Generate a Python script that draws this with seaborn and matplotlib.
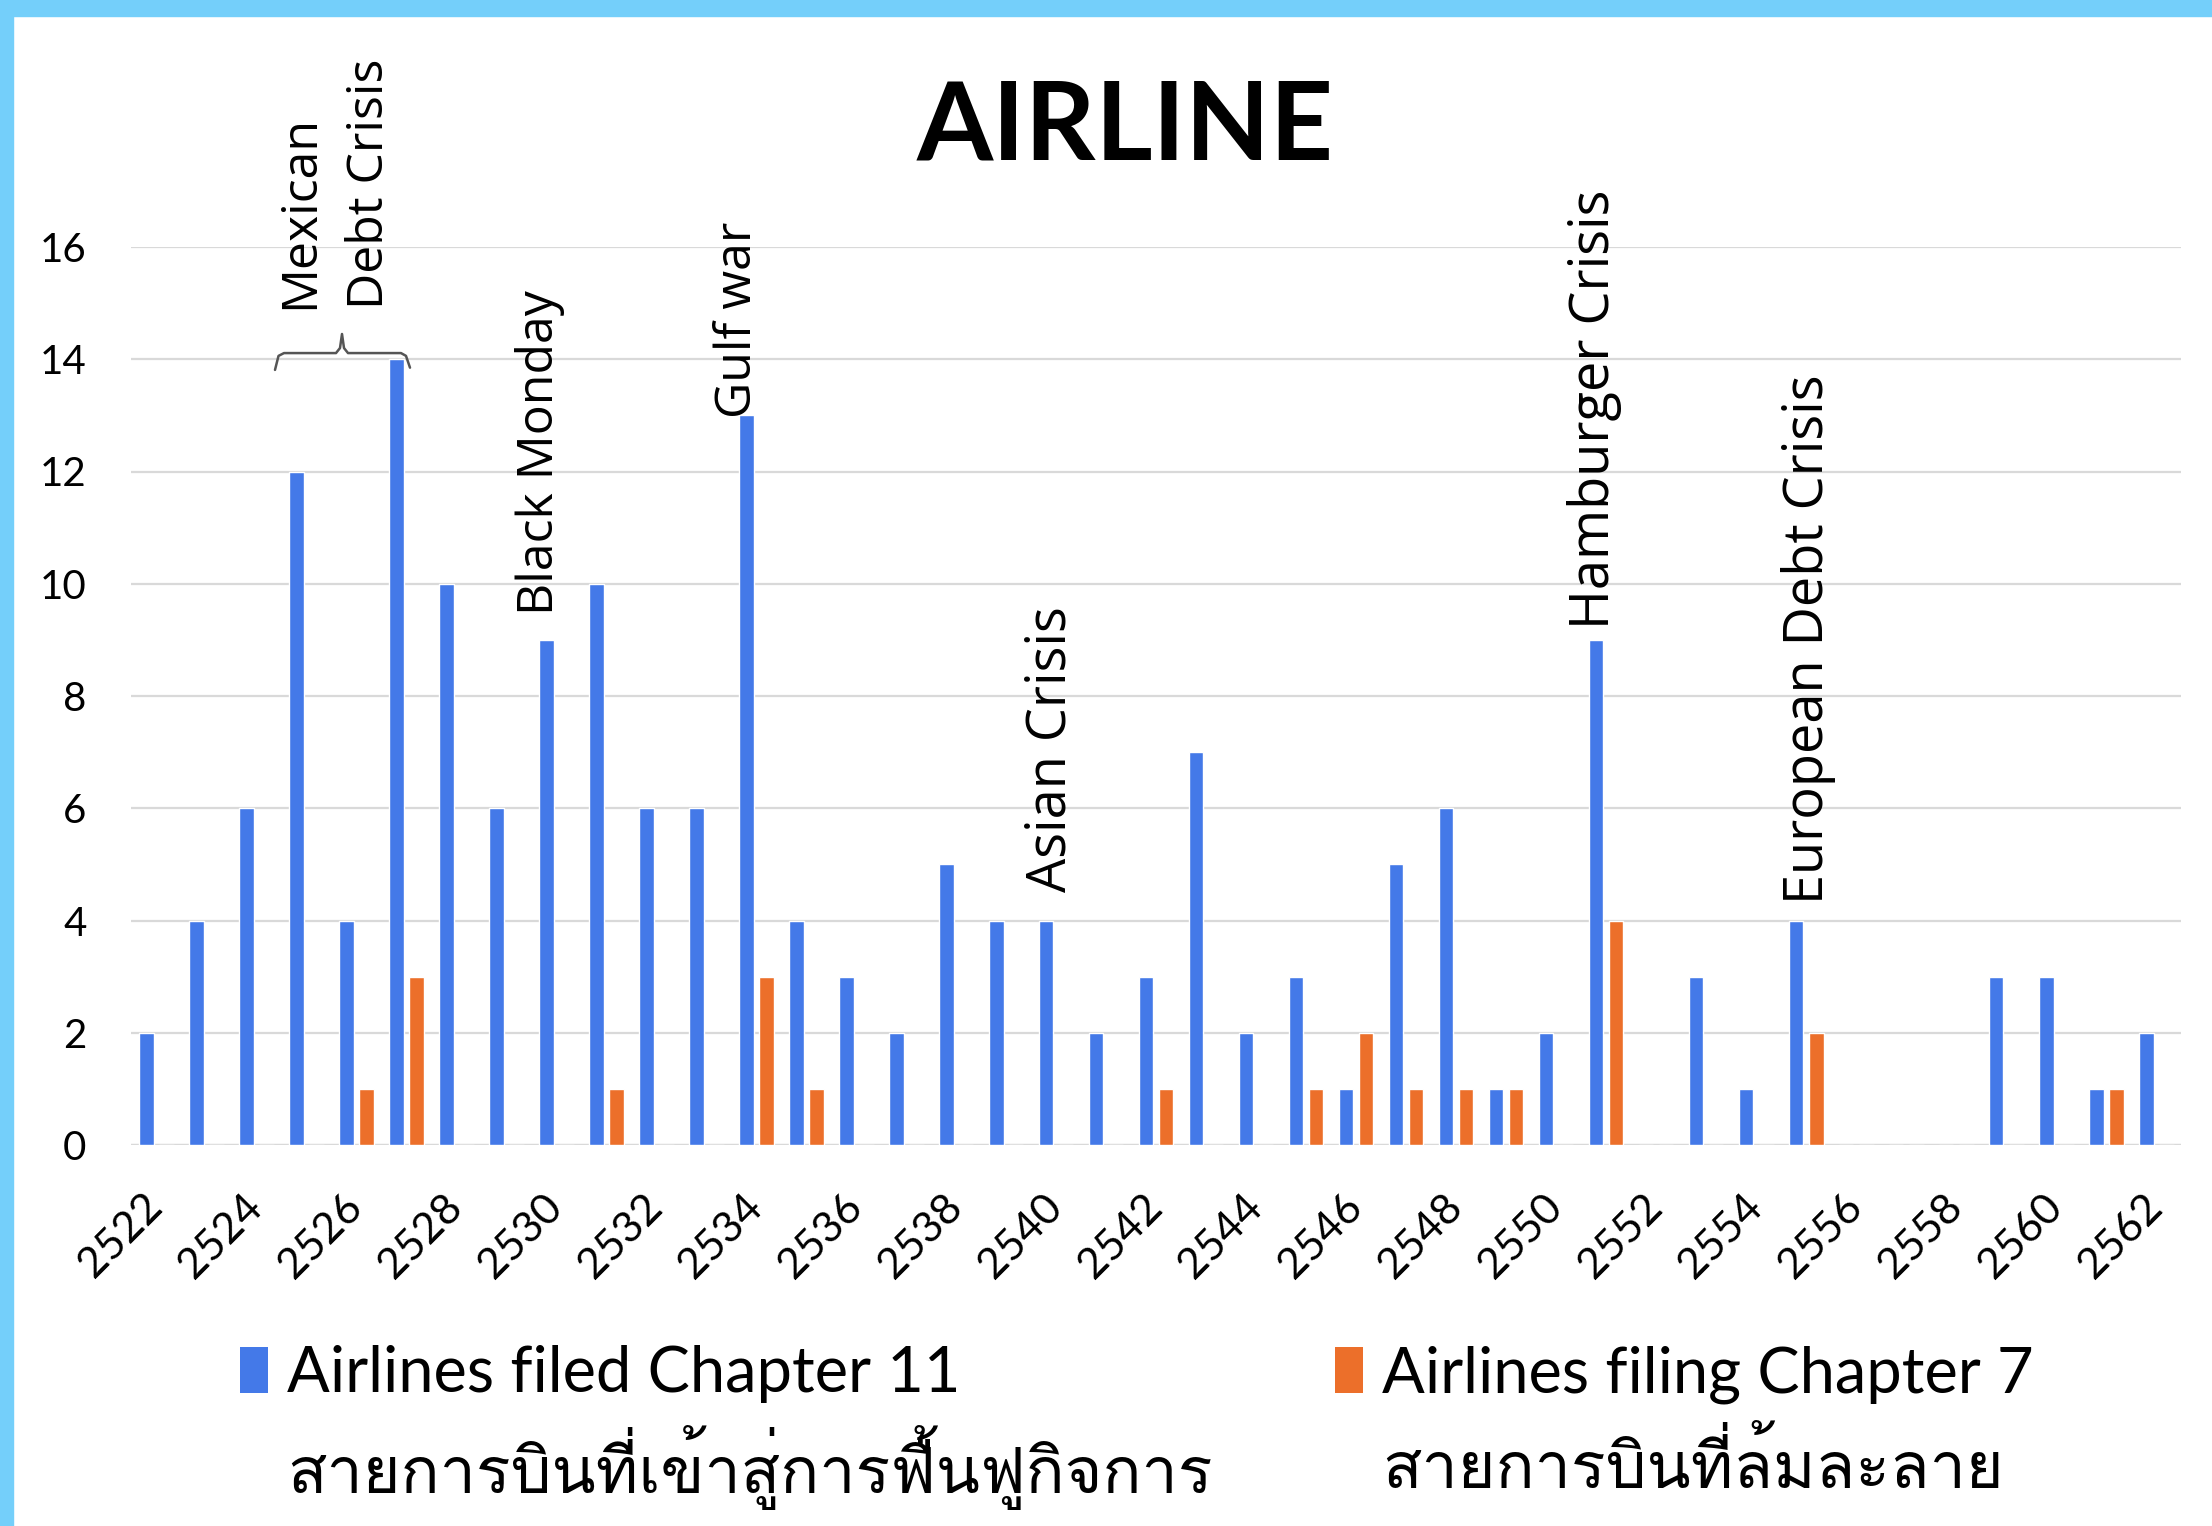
import numpy as np
import pandas as pd
import matplotlib
matplotlib.use("Agg")
import matplotlib.pyplot as plt
from matplotlib.patches import Patch, Rectangle
from matplotlib import font_manager
from matplotlib.ft2font import FT2Font
import seaborn as sns

# ---- data -------------------------------------------------------------
years = list(range(2522, 2563))
chapter11 = [2, 4, 6, 12, 4, 14, 10, 6, 9, 10, 6, 6, 13, 4, 3, 2, 5, 4, 4, 2,
             3, 7, 2, 3, 1, 5, 6, 1, 2, 9, 0, 3, 1, 4, 0, 0, 0, 3, 3, 1, 2]
chapter7 = [0, 0, 0, 0, 1, 3, 0, 0, 0, 1, 0, 0, 3, 1, 0, 0, 0, 0, 0, 0,
            1, 0, 0, 1, 2, 1, 1, 1, 0, 4, 0, 0, 0, 2, 0, 0, 0, 0, 0, 1, 0]
series_en = ["Airlines filed Chapter 11", "Airlines filing Chapter 7"]
series_th = ["สายการบินที่เข้าสู่การฟื้นฟูกิจการ", "สายการบินที่ล้มละลาย"]
events = ["Mexican", "Debt Crisis", "Black Monday", "Gulf war",
          "Asian Crisis", "Hamburger Crisis", "European Debt Crisis"]
event_x = [2.88, 4.28, 7.68, 11.64, 17.9, 28.76, 33.05]
event_y = [14.9, 14.9, 9.45, 12.95, 4.5, 9.2, 4.3]
event_size = [36, 36, 36, 36, 39, 39, 39]
title = "AIRLINE"

BLUE = "#4479E8"
ORANGE = "#EC6F2A"
GRID = "#D9D9D9"


def thai_family():
    for f in font_manager.fontManager.ttflist:
        try:
            if 0x0E2A in FT2Font(f.fname).get_charmap():
                return f.name
        except Exception:
            continue
    return "DejaVu Sans"


sns.set_theme(style="white")
plt.rcParams["font.family"] = ["Lato", "DejaVu Sans"]
plt.rcParams["text.color"] = "black"
th_font = thai_family()

df = pd.DataFrame({
    "year": [str(y) for y in years] * 2,
    "series": [series_en[0]] * len(years) + [series_en[1]] * len(years),
    "count": chapter11 + chapter7,
})

fig = plt.figure(figsize=(22.12, 15.26), dpi=100)
fig.patch.set_facecolor("white")

# light-blue frame along top and left edges
fig.patches.append(Rectangle((0, 1 - 16 / 1526), 1, 16 / 1526, transform=fig.transFigure,
                             color="#74CFFA", zorder=0))
fig.patches.append(Rectangle((0, 0), 13 / 2212, 1, transform=fig.transFigure,
                             color="#74CFFA", zorder=0))

ax = fig.add_axes([131 / 2212, 381 / 1526, 2050 / 2212, 898 / 1526])
sns.barplot(data=df, x="year", y="count", hue="series", hue_order=series_en,
            palette=[BLUE, ORANGE], width=0.8, gap=0.25, dodge=True,
            legend=False, ax=ax, saturation=1)

ax.set_ylim(0, 16)
ax.set_xlim(-0.5, len(years) - 0.5)
ax.set_yticks(range(0, 17, 2))
ax.yaxis.grid(True, color=GRID, linewidth=1.6)
ax.set_axisbelow(True)
for s in ax.spines.values():
    s.set_visible(False)
ax.axhline(0, color=GRID, linewidth=1.6, zorder=0.5)
ax.set_xlabel("")
ax.set_ylabel("")

ax.set_xticks(range(0, len(years), 2))
ax.set_xticklabels([str(y) for y in years[::2]], rotation=45, ha="right",
                   va="center", rotation_mode="anchor")
ax.tick_params(axis="x", length=0, pad=40, labelsize=31, colors="black")
ax.tick_params(axis="y", length=0, pad=32, labelsize=29, colors="black")

# event annotations
for name, x, y, fs in zip(events, event_x, event_y, event_size):
    ax.text(x, y, name, rotation=90, ha="center", va="bottom",
            fontsize=fs, family="Open Sans", color="black", clip_on=False)

# brace under the Mexican Debt Crisis label
bx = [2.38, 2.45, 2.56, 3.6, 3.68, 3.72, 3.76, 3.84, 4.9, 5.0, 5.08]
by = [13.81, 14.06, 14.11, 14.11, 14.2, 14.45, 14.2, 14.11, 14.11, 14.06, 13.85]
ax.plot(bx, by, color="#555555", linewidth=1.8, clip_on=False)

fig.text(1125 / 2212, 1 - 128 / 1526, title, ha="center", va="center",
         fontsize=79, fontweight="bold", family="Lato", color="black")

# legend: English labels with swatches, Thai translation below
legends = []
for lab, col, x0 in zip(series_en, [BLUE, ORANGE], [240, 1335]):
    lg = fig.legend(handles=[Patch(facecolor=col, edgecolor="none")], labels=[lab],
                    loc="upper left", bbox_to_anchor=(x0 / 2212, 1 - 1345 / 1526),
                    frameon=False, fontsize=45.5, handlelength=0.45, handleheight=0.75,
                    handletextpad=0.3, borderpad=0, borderaxespad=0)
    for t in lg.get_texts():
        t.set_color("black")
    legends.append(lg)

fig.canvas.draw()
renderer = fig.canvas.get_renderer()
for lg, th in zip(legends, series_th):
    bb = lg.get_texts()[0].get_window_extent(renderer)
    fig.text(bb.x0 / 2212, 1 - 1467 / 1526, th, ha="left", va="center",
             fontsize=46.5, family=[th_font, "DejaVu Sans"], color="black")

fig.savefig("out.png", dpi=100, facecolor="white")
